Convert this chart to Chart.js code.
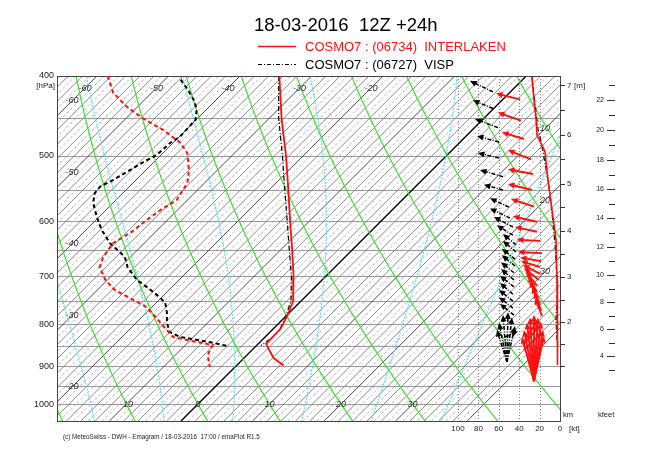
<!DOCTYPE html>
<html>
<head>
<meta charset="utf-8">
<script src="https://cdn.jsdelivr.net/npm/chart.js@4.4.1/dist/chart.umd.min.js"></script>
<style>
html,body{margin:0;padding:0;background:#fff;}
#wrap{position:relative;width:650px;height:455px;overflow:hidden;font-family:"Liberation Sans",Arial,sans-serif;}
#c{position:absolute;left:0;top:0;}
.t{position:absolute;white-space:nowrap;}
</style>
</head>
<body>
<div id="wrap">
<canvas id="c" width="650" height="455"></canvas>
<div class="t" style="left:254px;top:14px;font-size:18.5px;line-height:21px;color:#000">18-03-2016&nbsp;&nbsp;12Z +24h</div>
<svg class="t" style="left:258px;top:42px" width="40" height="9"><line x1="0" y1="4.5" x2="38" y2="4.5" stroke="#ff1010" stroke-width="1.6"/></svg>
<div class="t" style="left:305px;top:39px;font-size:13px;line-height:15px;color:#ff1010">COSMO7 : (06734)&nbsp;&nbsp;INTERLAKEN</div>
<svg class="t" style="left:258px;top:60px" width="40" height="9"><line x1="0" y1="4.5" x2="38" y2="4.5" stroke="#000" stroke-width="1" stroke-dasharray="4 2 1 2"/></svg>
<div class="t" style="left:305px;top:57px;font-size:13px;line-height:15px;color:#000">COSMO7 : (06727)&nbsp;&nbsp;VISP</div>
<div class="t" style="left:63px;top:433px;font-size:7px;line-height:8px;color:#222;transform:scaleX(0.9);transform-origin:0 0">(c) MeteoSwiss - DWH - Emagram / 18-03-2016&nbsp;&nbsp;17:00 / emaPlot R1.5</div>
</div>
<script>
// ---------------- data ----------------
const pressureTicks = [400, 500, 600, 700, 800, 900, 1000];
const pressureGrid = [400, 450, 500, 550, 600, 650, 700, 750, 800, 850, 900, 950, 1000];
const windTicks = [0, 20, 40, 60, 80, 100];
const windGrid = [20, 40, 60, 80, 100];
const kmTicks = [1, 1.5, 2, 2.5, 3, 3.5, 4, 4.5, 5, 5.5, 6, 6.5, 7];
const kmLabels = [2, 3, 4, 5, 6, 7];
const kfeetTicks = [3,4,5,6,7,8,9,10,11,12,13,14,15,16,17,18,19,20,21,22,23];
const kfeetLabels = [4, 6, 8, 10, 12, 14, 16, 18, 20, 22];
const isoLabelsLeft = [-60, -50, -40, -30, -20];
const isoLabelsTop = [-60, -50, -40, -30, -20];
const isoLabelsRight = [10, 20, 30];
const isoLabelsBottom = [-10, 0, 10, 20, 30];
const dryAdiabatTheta = [-20, -10, 0, 10, 20, 30, 40, 50, 60, 70, 80, 90];
const moistAdiabatThetaW = [-15, -5, 5, 15, 25, 35];

// Interlaken (red)
const intTempP = [400, 450, 500, 550, 600, 650, 700, 750, 780, 810, 835, 845, 860, 880, 898];
const intTemp  = [-34.5, -28.3, -22.4, -17.3, -12.7, -8.4, -4.5, -1.1, 0.1, 1.0, 1.1, 1.1, 2.4, 4.2, 6.6];
const intDewP  = [400, 419, 436, 450, 465, 482, 496, 520, 539, 566, 582, 598, 620, 638, 663, 682, 707, 727, 744, 763, 791, 809, 829, 839, 848, 872, 902];
const intDew   = [-58.5, -55.4, -51.5, -47.7, -43.2, -39.0, -36.6, -34.0, -32.4, -31.5, -32.4, -32.9, -33.4, -34.4, -33.8, -32.9, -30.3, -27.6, -24.3, -20.7, -17.3, -15.2, -12.9, -9.5, -6.2, -5.5, -3.5];
const intSpdP  = [401, 428, 452, 472, 494, 535, 582, 632, 707, 758, 836, 884, 897];
const intSpd   = [27.5, 25.5, 23.5, 22.5, 14.7, 11.8, 7.8, 3.9, 2.9, 2.9, 2.0, 2.9, 2.0];
const intArrowTailP  = [427, 453, 477, 505, 526, 550, 576, 601, 618, 634, 656, 671, 682, 695, 707, 719, 731, 744, 756, 769, 782, 938, 938, 938, 938, 938, 938, 938, 938, 938, 860, 848, 836];
const intArrowTailKt = [39.2, 38.2, 35.3, 28.4, 26.5, 27.5, 25.5, 22.5, 22.5, 19.6, 17.6, 18.6, 19.6, 19.6, 20.6, 22.5, 22.5, 21.6, 19.6, 18.6, 17.6, 25.5, 25.5, 25.5, 25.5, 25.5, 25.5, 25.5, 25.5, 25.5, 35.3, 36.3, 34.3];
const intArrowHeadP  = [420, 443, 468, 492, 519, 541, 564, 592, 610, 632, 654, 664, 671, 678, 684, 691, 699, 709, 721, 731, 744, 829, 813, 797, 785, 780, 785, 795, 813, 827, 818, 802, 791];
const intArrowHeadKt = [62.7, 60.8, 56.9, 51.0, 51.0, 51.0, 48.0, 46.1, 44.1, 42.2, 41.2, 39.2, 38.2, 36.3, 35.3, 33.3, 31.4, 29.4, 27.5, 25.5, 24.5, 37.3, 35.3, 32.4, 29.4, 25.5, 21.6, 18.6, 16.7, 15.7, 17.6, 19.6, 21.6];

// Visp (black)
const vispTempP = [400, 450, 500, 550, 600, 650, 700, 750, 785, 815, 835, 849];
const vispTemp  = [-34.6, -28.7, -22.9, -17.8, -13.1, -8.8, -4.8, -1.4, 0.1, 1.1, 1.0, 0.6];
const vispDewP  = [404, 416, 430, 440, 452, 463, 474, 482, 499, 509, 520, 535, 545, 555, 570, 593, 615, 638, 663, 682, 707, 723, 742, 754, 775, 797, 818, 829, 836, 843, 850];
const vispDew   = [-47.8, -45.3, -42.7, -41.3, -40.1, -40.0, -39.9, -40.4, -40.6, -41.5, -42.2, -43.2, -44.1, -43.9, -42.8, -40.3, -37.8, -34.8, -30.8, -29.0, -25.9, -23.2, -20.3, -18.7, -17.1, -15.7, -14.0, -11.9, -9.1, -6.4, -4.1];
const vispSpdP  = [401, 465, 480, 510, 555, 638, 707, 748, 791, 836, 848];
const vispSpd   = [27.5, 21.5, 18.6, 14.7, 9.8, 4.9, 2.9, 2.9, 3.9, 2.9, 1.0];
const vispArrowTailP  = [418, 438, 462, 481, 503, 530, 550, 577, 595, 610, 624, 641, 654, 667, 680, 693, 707, 721, 736, 750, 765, 780, 889, 889, 889, 889, 889, 889, 829];
const vispArrowTailKt = [65.7, 65.7, 60.8, 59.8, 59.8, 55.9, 55.9, 50.0, 49.0, 46.1, 46.1, 43.1, 43.1, 44.1, 44.1, 45.1, 45.1, 45.1, 46.1, 46.1, 46.1, 45.1, 52, 52, 52, 52, 52, 52, 53.9];
const vispArrowHeadP  = [405.6, 428, 451, 473, 496, 520, 542, 563, 579, 593, 607, 622, 634, 648, 660, 673, 686, 699, 713, 727, 742, 756, 813, 797, 780, 774, 785, 804, 816];
const vispArrowHeadKt = [88.2, 85.3, 83.3, 81.4, 80.4, 78.4, 74.5, 68.6, 68.6, 64.7, 61.8, 55.9, 55.9, 56.9, 56.9, 57.8, 57.8, 58.8, 58.8, 59.8, 59.8, 58.8, 61.8, 59.8, 55.9, 51.0, 47.1, 44.1, 41.2];

// ---------------- diagram projection ----------------
const SKEW = 50.07;              // degC of skew per e-fold of pressure (45 deg isotherms)
const tempAxisMin = -19.7, tempAxisMax = 50.6;
const pTop = 400, pBottom = 1048.5;
const windAxisMax = 493;
function skewX(T, p) { return T + SKEW * Math.log(1000 / p); }
function stdPressure(hMeters) { return 1013.25 * Math.pow(1 - 0.0065 * hMeters / 288.15, 5.25588); }

const RED = '#ff1010';
const FONT = '"Liberation Sans", Arial, sans-serif';

function moistCurve(thw) {
  const Rd = 287.04, cp = 1005.7, Lv = 2.501e6, eps = 0.622;
  const f = (p, Tk) => {
    const Tc = Tk - 273.15;
    const es = 6.112 * Math.exp(17.67 * Tc / (Tc + 243.5));
    const rs = eps * es / (p - es);
    return (Rd * Tk + Lv * rs) / (cp + Lv * Lv * rs * eps / (Rd * Tk * Tk)) / p;
  };
  const run = (dp, stop) => {
    let p = 1000, T = thw + 273.15; const out = [[p, T - 273.15]];
    while ((dp < 0 && p > stop) || (dp > 0 && p < stop)) {
      const k1 = f(p, T); const k2 = f(p + dp / 2, T + k1 * dp / 2);
      T += k2 * dp; p += dp; out.push([p, T - 273.15]);
    }
    return out;
  };
  return run(5, 1060).reverse().concat(run(-5, 380));
}

function drawCurve(ctx, pts, x, y) {
  ctx.beginPath();
  pts.forEach(([p, T], i) => {
    const X = x.getPixelForValue(skewX(T, p)), Y = y.getPixelForValue(p);
    if (i) ctx.lineTo(X, Y); else ctx.moveTo(X, Y);
  });
  ctx.stroke();
}

const gridPlugin = {
  id: 'emagramGrid',
  beforeDatasetsDraw(chart) {
    const { ctx, chartArea: a, scales } = chart;
    const x = scales.x, y = scales.y, kt = scales.kt;
    ctx.save();
    ctx.beginPath(); ctx.rect(a.left, a.top, a.right - a.left, a.bottom - a.top); ctx.clip();
    // isobars
    ctx.lineWidth = 1; ctx.strokeStyle = '#9a9a9a';
    pressureGrid.forEach(p => {
      const yy = Math.round(y.getPixelForValue(p)) + 0.5;
      ctx.beginPath(); ctx.moveTo(a.left, yy); ctx.lineTo(a.right, yy); ctx.stroke();
    });
    // isotherms
    for (let T = -70; T <= 40; T++) {
      ctx.setLineDash([]);
      if (T === 0) { ctx.strokeStyle = '#000'; ctx.lineWidth = 1.4; }
      else if (T % 10 === 0) { ctx.strokeStyle = '#4a4a4a'; ctx.lineWidth = 1; }
      else if (T % 2 === 0) { ctx.strokeStyle = '#7c7c7c'; ctx.lineWidth = 0.9; }
      else { ctx.strokeStyle = '#a6a6a6'; ctx.lineWidth = 0.8; ctx.setLineDash([3, 2]); }
      ctx.beginPath();
      ctx.moveTo(x.getPixelForValue(skewX(T, pTop)), y.getPixelForValue(pTop));
      ctx.lineTo(x.getPixelForValue(skewX(T, pBottom)), y.getPixelForValue(pBottom));
      ctx.stroke();
    }
    // saturated adiabats
    ctx.strokeStyle = '#5fdcee'; ctx.lineWidth = 1.2; ctx.setLineDash([2, 1.2]);
    moistAdiabatThetaW.forEach(th => drawCurve(ctx, moistCurve(th), x, y));
    // dry adiabats
    ctx.setLineDash([]); ctx.strokeStyle = '#47d83a'; ctx.lineWidth = 1.2;
    dryAdiabatTheta.forEach(th => {
      const pts = [];
      for (let p = 380; p <= 1060; p += 10) pts.push([p, (th + 273.15) * Math.pow(p / 1000, 0.2857) - 273.15]);
      drawCurve(ctx, pts, x, y);
    });
    // wind speed grid
    ctx.strokeStyle = '#808080'; ctx.lineWidth = 1; ctx.setLineDash([1, 2]);
    windGrid.forEach(v => {
      const xx = Math.round(kt.getPixelForValue(v)) + 0.5;
      ctx.beginPath(); ctx.moveTo(xx, a.top); ctx.lineTo(xx, a.bottom); ctx.stroke();
    });
    ctx.setLineDash([]);
    // isotherm labels
    ctx.fillStyle = '#333'; ctx.font = 'italic 9px ' + FONT; ctx.textAlign = 'center'; ctx.textBaseline = 'middle';
    const xL = x.getValueForPixel(a.left + 15);
    isoLabelsLeft.forEach(T => {
      const p = 1000 * Math.exp(-(xL - T) / SKEW);
      ctx.fillText(String(T), a.left + 15, y.getPixelForValue(p));
    });
    const pT = y.getValueForPixel(a.top + 12);
    isoLabelsTop.forEach(T => ctx.fillText(String(T), x.getPixelForValue(skewX(T, pT)), a.top + 12));
    const xR = x.getValueForPixel(a.right - 15);
    isoLabelsRight.forEach(T => {
      const p = 1000 * Math.exp(-(xR - T) / SKEW);
      ctx.fillText(String(T), a.right - 15, y.getPixelForValue(p));
    });
    isoLabelsBottom.forEach(T => ctx.fillText(String(T), x.getPixelForValue(skewX(T, 1000)), y.getPixelForValue(1000)));
    ctx.restore();
    // frame
    ctx.save();
    ctx.strokeStyle = '#444'; ctx.lineWidth = 1;
    ctx.strokeRect(Math.round(a.left) + 0.5, Math.round(a.top) + 0.5, Math.round(a.right - a.left), Math.round(a.bottom - a.top));
    ctx.restore();
  },
  afterDatasetsDraw(chart) {
    const { ctx, chartArea: a, scales } = chart;
    const y = scales.y, kt = scales.kt;
    const drawArrows = (tp, tk, hp, hk, color, dash, width) => {
      ctx.save();
      ctx.beginPath(); ctx.rect(a.left, a.top, a.right - a.left, a.bottom - a.top + 20); ctx.clip();
      ctx.strokeStyle = color; ctx.fillStyle = color; ctx.lineWidth = width;
      tp.forEach((p, i) => {
        const x1 = kt.getPixelForValue(tk[i]), y1 = y.getPixelForValue(p);
        const x2 = kt.getPixelForValue(hk[i]), y2 = y.getPixelForValue(hp[i]);
        const ang = Math.atan2(y2 - y1, x2 - x1);
        const L = 6.5, W = 3;
        ctx.setLineDash(dash);
        ctx.beginPath(); ctx.moveTo(x1, y1);
        ctx.lineTo(x2 - Math.cos(ang) * L * 0.6, y2 - Math.sin(ang) * L * 0.6); ctx.stroke();
        ctx.setLineDash([]);
        ctx.beginPath();
        ctx.moveTo(x2, y2);
        ctx.lineTo(x2 - Math.cos(ang) * L + Math.sin(ang) * W, y2 - Math.sin(ang) * L - Math.cos(ang) * W);
        ctx.lineTo(x2 - Math.cos(ang) * L - Math.sin(ang) * W, y2 - Math.sin(ang) * L + Math.cos(ang) * W);
        ctx.closePath(); ctx.fill();
      });
      ctx.restore();
    };
    drawArrows(vispArrowTailP, vispArrowTailKt, vispArrowHeadP, vispArrowHeadKt, '#000', [4, 1.5, 1, 1.5], 1.5);
    drawArrows(intArrowTailP, intArrowTailKt, intArrowHeadP, intArrowHeadKt, RED, [], 1.9);

    // height scales on the right
    ctx.save();
    ctx.strokeStyle = '#333'; ctx.fillStyle = '#222'; ctx.lineWidth = 1;
    ctx.font = '8px ' + FONT; ctx.textBaseline = 'middle';
    kmTicks.forEach(h => {
      const yy = Math.round(y.getPixelForValue(stdPressure(h * 1000))) + 0.5;
      ctx.beginPath(); ctx.moveTo(a.right, yy); ctx.lineTo(a.right + 5, yy); ctx.stroke();
    });
    ctx.textAlign = 'left';
    kmLabels.forEach(h => ctx.fillText(String(h), a.right + 7, y.getPixelForValue(stdPressure(h * 1000))));
    ctx.fillText('[m]', a.right + 14, y.getPixelForValue(stdPressure(7000)));
    kfeetTicks.forEach(k => {
      const yy = Math.round(y.getPixelForValue(stdPressure(k * 304.8))) + 0.5;
      const even = k % 2 === 0;
      ctx.beginPath(); ctx.moveTo(a.right + (even ? 47 : 49), yy); ctx.lineTo(a.right + 55, yy); ctx.stroke();
    });
    ctx.textAlign = 'right'; ctx.font = '7px ' + FONT;
    kfeetLabels.forEach(k => ctx.fillText(String(k), a.right + 44, y.getPixelForValue(stdPressure(k * 304.8))));
    ctx.textAlign = 'left'; ctx.font = '7.5px ' + FONT;
    ctx.fillText('km', a.right + 3, a.bottom - 6);
    ctx.fillText('kfeet', a.right + 38, a.bottom - 6);
    ctx.font = '8px ' + FONT;
    ctx.fillText('[kt]', a.right + 9, a.bottom + 8);
    ctx.textAlign = 'right'; ctx.font = '8px ' + FONT;
    ctx.fillText('[hPa]', a.left - 2, a.top + 10);
    ctx.restore();
  }
};

const line = (data, color, width, dash, xAxisID) => ({
  data, borderColor: color, backgroundColor: color, borderWidth: width, borderDash: dash,
  showLine: true, pointRadius: 0, tension: 0, fill: false, xAxisID, yAxisID: 'y'
});

new Chart(document.getElementById('c'), {
  type: 'scatter',
  data: {
    datasets: [
      line(intTempP.map((p, i) => ({ x: skewX(intTemp[i], p), y: p })), RED, 1.8, [], 'x'),
      line(intDewP.map((p, i) => ({ x: skewX(intDew[i], p), y: p })), RED, 2, [4, 3], 'x'),
      line(vispTempP.map((p, i) => ({ x: skewX(vispTemp[i], p), y: p })), '#000', 1.2, [5, 2, 1, 2], 'x'),
      line(vispDewP.map((p, i) => ({ x: skewX(vispDew[i], p), y: p })), '#000', 2, [4, 3], 'x'),
      line(intSpdP.map((p, i) => ({ x: intSpd[i], y: p })), RED, 1.6, [], 'kt'),
      line(vispSpdP.map((p, i) => ({ x: vispSpd[i], y: p })), '#000', 1.2, [5, 2, 1, 2], 'kt')
    ]
  },
  options: {
    responsive: false, animation: false, devicePixelRatio: 1,
    layout: { padding: { top: 76, right: 90, left: 0, bottom: 0 } },
    plugins: { legend: { display: false }, title: { display: false }, tooltip: { enabled: false } },
    scales: {
      x: { type: 'linear', min: tempAxisMin, max: tempAxisMax, display: false },
      kt: {
        type: 'linear', position: 'bottom', reverse: true, min: 0, max: windAxisMax,
        afterBuildTicks: s => { s.ticks = windTicks.map(v => ({ value: v })); },
        afterFit: s => { s.height = 34; },
        grid: { display: false, drawTicks: false }, border: { display: false },
        ticks: { padding: 3, color: '#222', autoSkip: false, maxRotation: 0, font: { size: 8, family: FONT } }
      },
      y: {
        type: 'logarithmic', position: 'left', reverse: true, min: pTop, max: pBottom,
        afterBuildTicks: s => { s.ticks = pressureTicks.map(v => ({ value: v })); },
        afterFit: s => { s.width = 57; },
        grid: { display: false, drawTicks: false }, border: { display: false },
        ticks: { padding: 3, color: '#222', autoSkip: false, font: { size: 9, family: FONT }, callback: v => String(v) }
      }
    }
  },
  plugins: [gridPlugin]
});
</script>
</body>
</html>
